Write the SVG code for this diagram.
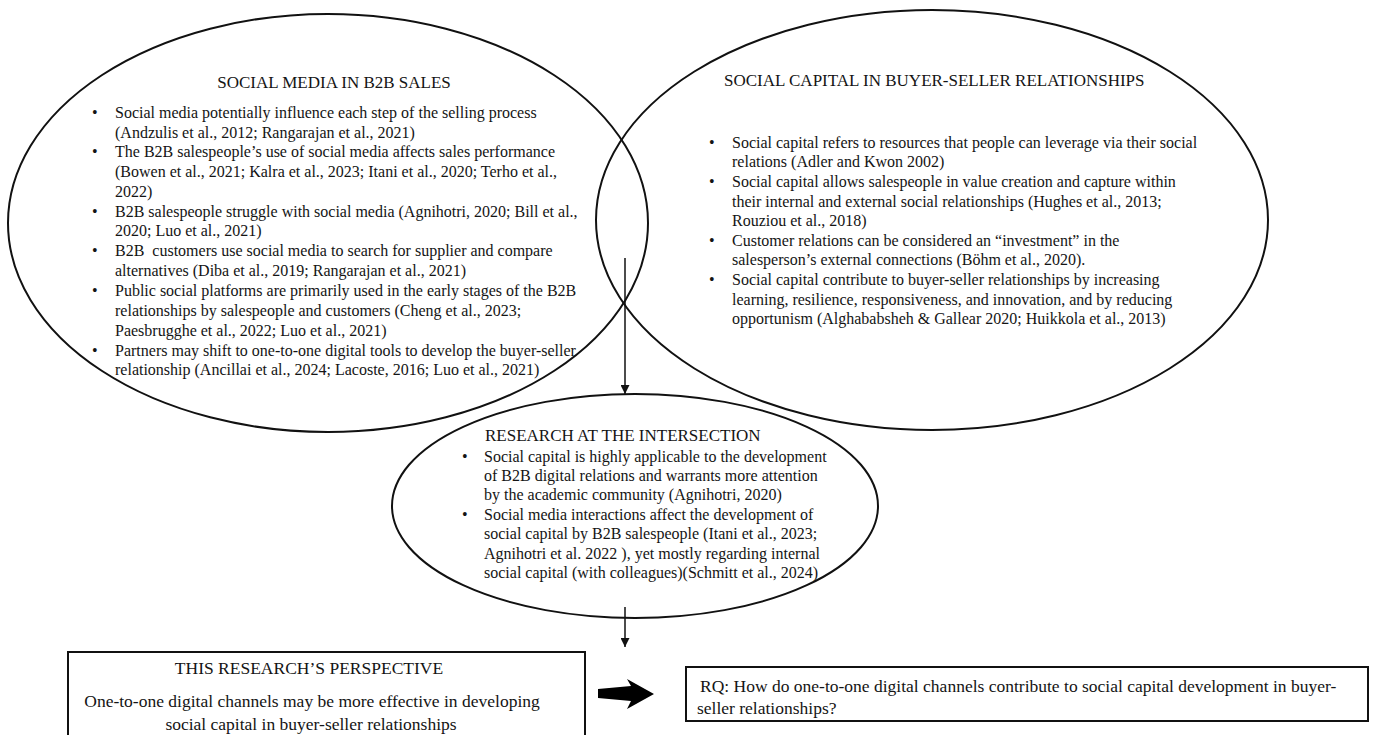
<svg xmlns="http://www.w3.org/2000/svg" width="1373" height="735" viewBox="0 0 1373 735">
<defs>
<style>
.shape{fill:none;stroke:#111;stroke-width:2}
.box{fill:#fff;stroke:#111;stroke-width:2}
text{font-family:"Liberation Serif","Times New Roman",serif;fill:#141414}
.t{font-size:17px}
.b{font-size:16px}
.bt{font-size:17.5px}
.line{fill:none;stroke:#111;stroke-width:1.5}
</style>
<marker id="ah" viewBox="0 0 10 10" refX="10" refY="5" markerWidth="9" markerHeight="9" markerUnits="userSpaceOnUse" orient="auto">
<path d="M0,0 L10,5 L0,10 Z" fill="#111"/>
</marker>
</defs>
<rect width="1373" height="735" fill="#fff"/>

<g id="node-social-media">
<ellipse class="shape" cx="328" cy="223" rx="320" ry="209"/>
<text class="t" x="334" y="88" text-anchor="middle">SOCIAL MEDIA IN B2B SALES</text>
<g class="b">
<text x="92" y="118">•</text><text x="115" y="118">Social media potentially influence each step of the selling process</text>
<text x="115" y="138">(Andzulis et al., 2012; Rangarajan et al., 2021)</text>
<text x="92" y="157">•</text><text x="115" y="157">The B2B salespeople’s use of social media affects sales performance</text>
<text x="115" y="177">(Bowen et al., 2021; Kalra et al., 2023; Itani et al., 2020; Terho et al.,</text>
<text x="115" y="197">2022)</text>
<text x="92" y="217">•</text><text x="115" y="217">B2B salespeople struggle with social media (Agnihotri, 2020; Bill et al.,</text>
<text x="115" y="236">2020; Luo et al., 2021)</text>
<text x="92" y="256">•</text><text x="115" y="256" xml:space="preserve">B2B  customers use social media to search for supplier and compare</text>
<text x="115" y="276">alternatives (Diba et al., 2019; Rangarajan et al., 2021)</text>
<text x="92" y="296">•</text><text x="115" y="296">Public social platforms are primarily used in the early stages of the B2B</text>
<text x="115" y="316">relationships by salespeople and customers (Cheng et al., 2023;</text>
<text x="115" y="336">Paesbrugghe et al., 2022; Luo et al., 2021)</text>
<text x="92" y="356">•</text><text x="115" y="356">Partners may shift to one-to-one digital tools to develop the buyer-seller</text>
<text x="115" y="375">relationship (Ancillai et al., 2024; Lacoste, 2016; Luo et al., 2021)</text>
</g>
</g>

<g id="node-social-capital">
<ellipse class="shape" cx="932" cy="220" rx="336" ry="210"/>
<text class="t" x="724" y="86">SOCIAL CAPITAL IN BUYER-SELLER RELATIONSHIPS</text>
<g class="b">
<text x="709" y="148">•</text><text x="732" y="148">Social capital refers to resources that people can leverage via their social</text>
<text x="732" y="167">relations (Adler and Kwon 2002)</text>
<text x="709" y="187">•</text><text x="732" y="187">Social capital allows salespeople in value creation and capture within</text>
<text x="732" y="207">their internal and external social relationships (Hughes et al., 2013;</text>
<text x="732" y="226">Rouziou et al., 2018)</text>
<text x="709" y="246">•</text><text x="732" y="246">Customer relations can be considered an “investment” in the</text>
<text x="732" y="265">salesperson’s external connections (Böhm et al., 2020).</text>
<text x="709" y="285">•</text><text x="732" y="285">Social capital contribute to buyer-seller relationships by increasing</text>
<text x="732" y="305">learning, resilience, responsiveness, and innovation, and by reducing</text>
<text x="732" y="324">opportunism (Alghababsheh &amp; Gallear 2020; Huikkola et al., 2013)</text>
</g>
</g>

<g id="node-intersection">
<ellipse class="shape" cx="635" cy="506" rx="243" ry="112"/>
<text class="t" x="485" y="441">RESEARCH AT THE INTERSECTION</text>
<g class="b">
<text x="462" y="462">•</text><text x="484" y="462">Social capital is highly applicable to the development</text>
<text x="484" y="481">of B2B digital relations and warrants more attention</text>
<text x="484" y="500">by the academic community (Agnihotri, 2020)</text>
<text x="462" y="520">•</text><text x="484" y="520">Social media interactions affect the development of</text>
<text x="484" y="539">social capital by B2B salespeople (Itani et al., 2023;</text>
<text x="484" y="559">Agnihotri et al. 2022 ), yet mostly regarding internal</text>
<text x="484" y="578">social capital (with colleagues)(Schmitt et al., 2024)</text>
</g>
</g>

<g id="node-perspective">
<rect class="box" x="68" y="652" width="517" height="100"/>
<text class="bt" x="309" y="674" text-anchor="middle">THIS RESEARCH’S PERSPECTIVE</text>
<text class="bt" x="312" y="707" text-anchor="middle">One-to-one digital channels may be more effective in developing</text>
<text class="bt" x="311" y="730" text-anchor="middle">social capital in buyer-seller relationships</text>
</g>

<g id="node-rq">
<rect class="box" x="686" y="667" width="682" height="54"/>
<text class="bt" x="700" y="692">RQ: How do one-to-one digital channels contribute to social capital development in buyer-</text>
<text class="bt" x="697" y="714">seller relationships?</text>
</g>

<g id="connectors">
<line class="line" x1="625" y1="258" x2="625" y2="394" marker-end="url(#ah)"/>
<line class="line" x1="625" y1="607" x2="625" y2="647" marker-end="url(#ah)"/>
<path d="M598,689 L631,686 L627,679 L654,694 L627,709 L631,701 L598,698 Z" fill="#000"/>
</g>
</svg>
